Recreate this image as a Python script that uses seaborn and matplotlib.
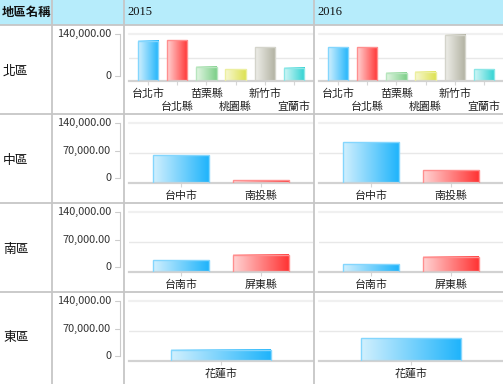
import numpy as np
import pandas as pd
import matplotlib
matplotlib.use('Agg')
import matplotlib.pyplot as plt
import seaborn as sns
from matplotlib.colors import LinearSegmentedColormap, to_rgb
from matplotlib.lines import Line2D
from matplotlib.patches import Rectangle

# ---------------- data ----------------
header_label = '地區名稱'
regions = ['北區', '中區', '南區', '東區']
years = ['2015', '2016']

north_cities = ['台北市', '台北縣', '苗栗縣', '桃園縣', '新竹市', '宜蘭市']
north_2015 = [120000, 122000, 42000, 35000, 100000, 39000]
north_2016 = [100000, 100000, 24000, 27000, 138000, 35000]

central_cities = ['台中市', '南投縣']
central_2015 = [64500, 6000]
central_2016 = [95000, 30000]

south_cities = ['台南市', '屏東縣']
south_2015 = [27000, 40000]
south_2016 = [18000, 36000]

east_cities = ['花蓮市']
east_2015 = [26000]
east_2016 = [53000]

y_max = 140000
y_ticks_full = [0, 70000, 140000]
y_ticks_short = [0, 140000]

# gradient (left light -> right saturated) per category position
gradient_pairs = [('#d2f0fe', '#1fb4fb'), ('#ffd4d4', '#ff3434'),
                  ('#e4f6e4', '#7ccf88'), ('#f8f8d4', '#dde252'),
                  ('#efefea', '#b0b0a0'), ('#d4f7f7', '#2ed2d2')]

# ---------------- layout ----------------
W, H = 503, 384
DPI = 100
sns.set_theme(style='white')
plt.rcParams['font.family'] = ['Noto Sans CJK TC', 'DejaVu Sans']
fig = plt.figure(figsize=(W / DPI, H / DPI), dpi=DPI)
fig.patch.set_facecolor('white')


def fx(x):
    return x / W


def fy(y):
    return 1 - y / H


LINE_C = '#c6c6c6'
fig.add_artist(Rectangle((0, fy(25)), 1, 25 / H, transform=fig.transFigure,
                         facecolor='#b6ecfb', edgecolor='none', zorder=0))
for yy in [25, 114, 203, 292]:
    fig.add_artist(Line2D([0, 1], [fy(yy), fy(yy)], transform=fig.transFigure,
                          color=LINE_C, lw=1.3, zorder=1))
for xx in [52, 124, 314]:
    fig.add_artist(Line2D([fx(xx), fx(xx)], [0, 1], transform=fig.transFigure,
                          color=LINE_C, lw=1.3, zorder=1))

fig.text(fx(2), fy(12.5), header_label, ha='left', va='center', fontsize=8.9,
         fontweight='bold', color='#111111')
for xx, yr in zip([127, 317], years):
    fig.text(fx(xx), fy(12), yr, ha='left', va='center', fontsize=9,
             family=['Liberation Serif', 'DejaVu Serif'], color='#111111')

row_data = [
    (north_cities, [north_2015, north_2016]),
    (central_cities, [central_2015, central_2016]),
    (south_cities, [south_2015, south_2016]),
    (east_cities, [east_2015, east_2016]),
]
panel_x = [(129, 313), (319, 503)]


def fmt(v):
    return '0' if v == 0 else f'{v:,.2f}'


def lighten(c, f=0.45):
    r = np.array(to_rgb(c))
    return tuple(r + (1 - r) * f)


def draw_panel(ax, cities, vals, stagger):
    df = pd.DataFrame({'city': cities, 'value': vals})
    n = len(cities)
    pal = [gradient_pairs[k][1] for k in range(n)]
    sns.barplot(data=df, x='city', y='value', hue='city', palette=pal,
                legend=False, width=0.7, saturation=1, ax=ax)
    grad = np.linspace(0, 1, 256).reshape(1, -1)
    for p in list(ax.patches):
        x, w, h = p.get_x(), p.get_width(), p.get_height()
        k = int(round(x + w / 2))
        left, right = gradient_pairs[k]
        cmap = LinearSegmentedColormap.from_list('g', [left, right])
        ax.imshow(grad, extent=[x, x + w, 0, h], aspect='auto', cmap=cmap,
                  interpolation='bilinear', zorder=2)
        p.set_facecolor('none')
        p.set_edgecolor(lighten(right))
        p.set_linewidth(1.0)
        p.set_zorder(3)
    ax.set_xlim(-0.65, n - 0.35)
    ax.set_ylim(0, y_max)
    ax.axhline(70000, color='#e8e8e8', lw=1.0, zorder=0)
    ax.axhline(140000, color='#f0f0f0', lw=1.6, zorder=0, clip_on=False)
    for s in ['top', 'right', 'left']:
        ax.spines[s].set_visible(False)
    ax.spines['bottom'].set_color('#d2d2d2')
    ax.spines['bottom'].set_linewidth(1.6)
    ax.set_yticks([])
    ax.set_xlabel('')
    ax.set_ylabel('')
    ax.set_facecolor('none')
    ax.tick_params(axis='x', length=3, width=0.8, color='#d6d6d6', pad=2.2,
                   labelsize=7.9, labelcolor='#222222', direction='out', bottom=True)
    if stagger:
        for i, t in enumerate(ax.xaxis.get_major_ticks()):
            if i % 2 == 1:
                t.set_pad(2.2 + 9.6)


for i, (region, (cities, series)) in enumerate(zip(regions, row_data)):
    top_row = 25 + 89 * i
    top = top_row + 9
    base = top_row + (56 if i == 0 else 69)
    fig.text(fx(3), fy(top_row + 46), region, ha='left', va='center',
             fontsize=9.2, color='#111111')
    # y axis column
    yb = base - 5
    yax = fig.add_axes([fx(110), fy(yb), fx(10), (yb - top) / H])
    yax.set_facecolor('none')
    yax.set_ylim(0, y_max)
    yax.set_xticks([])
    ticks = y_ticks_short if i == 0 else y_ticks_full
    yax.set_yticks(ticks)
    for s in ['top', 'bottom', 'left']:
        yax.spines[s].set_visible(False)
    yax.spines['right'].set_color('#cccccc')
    yax.spines['right'].set_linewidth(0.8)
    yax.tick_params(axis='y', right=False, left=False, labelright=False,
                    labelleft=False, length=0)
    for t in ticks:
        yax.plot([0.5, 1.0], [t, t], transform=yax.get_yaxis_transform(),
                 color='#cccccc', lw=0.8, clip_on=False)
        yax.text(0.1, t, fmt(t), transform=yax.get_yaxis_transform(),
                 ha='right', va='center', fontsize=7.9, color='#333333')
    for (x0, x1), vals in zip(panel_x, series):
        ax = fig.add_axes([fx(x0), fy(base), fx(x1 - x0), (base - top) / H])
        draw_panel(ax, cities, vals, stagger=(i == 0))

fig.savefig('out.png', dpi=DPI, facecolor='white')
